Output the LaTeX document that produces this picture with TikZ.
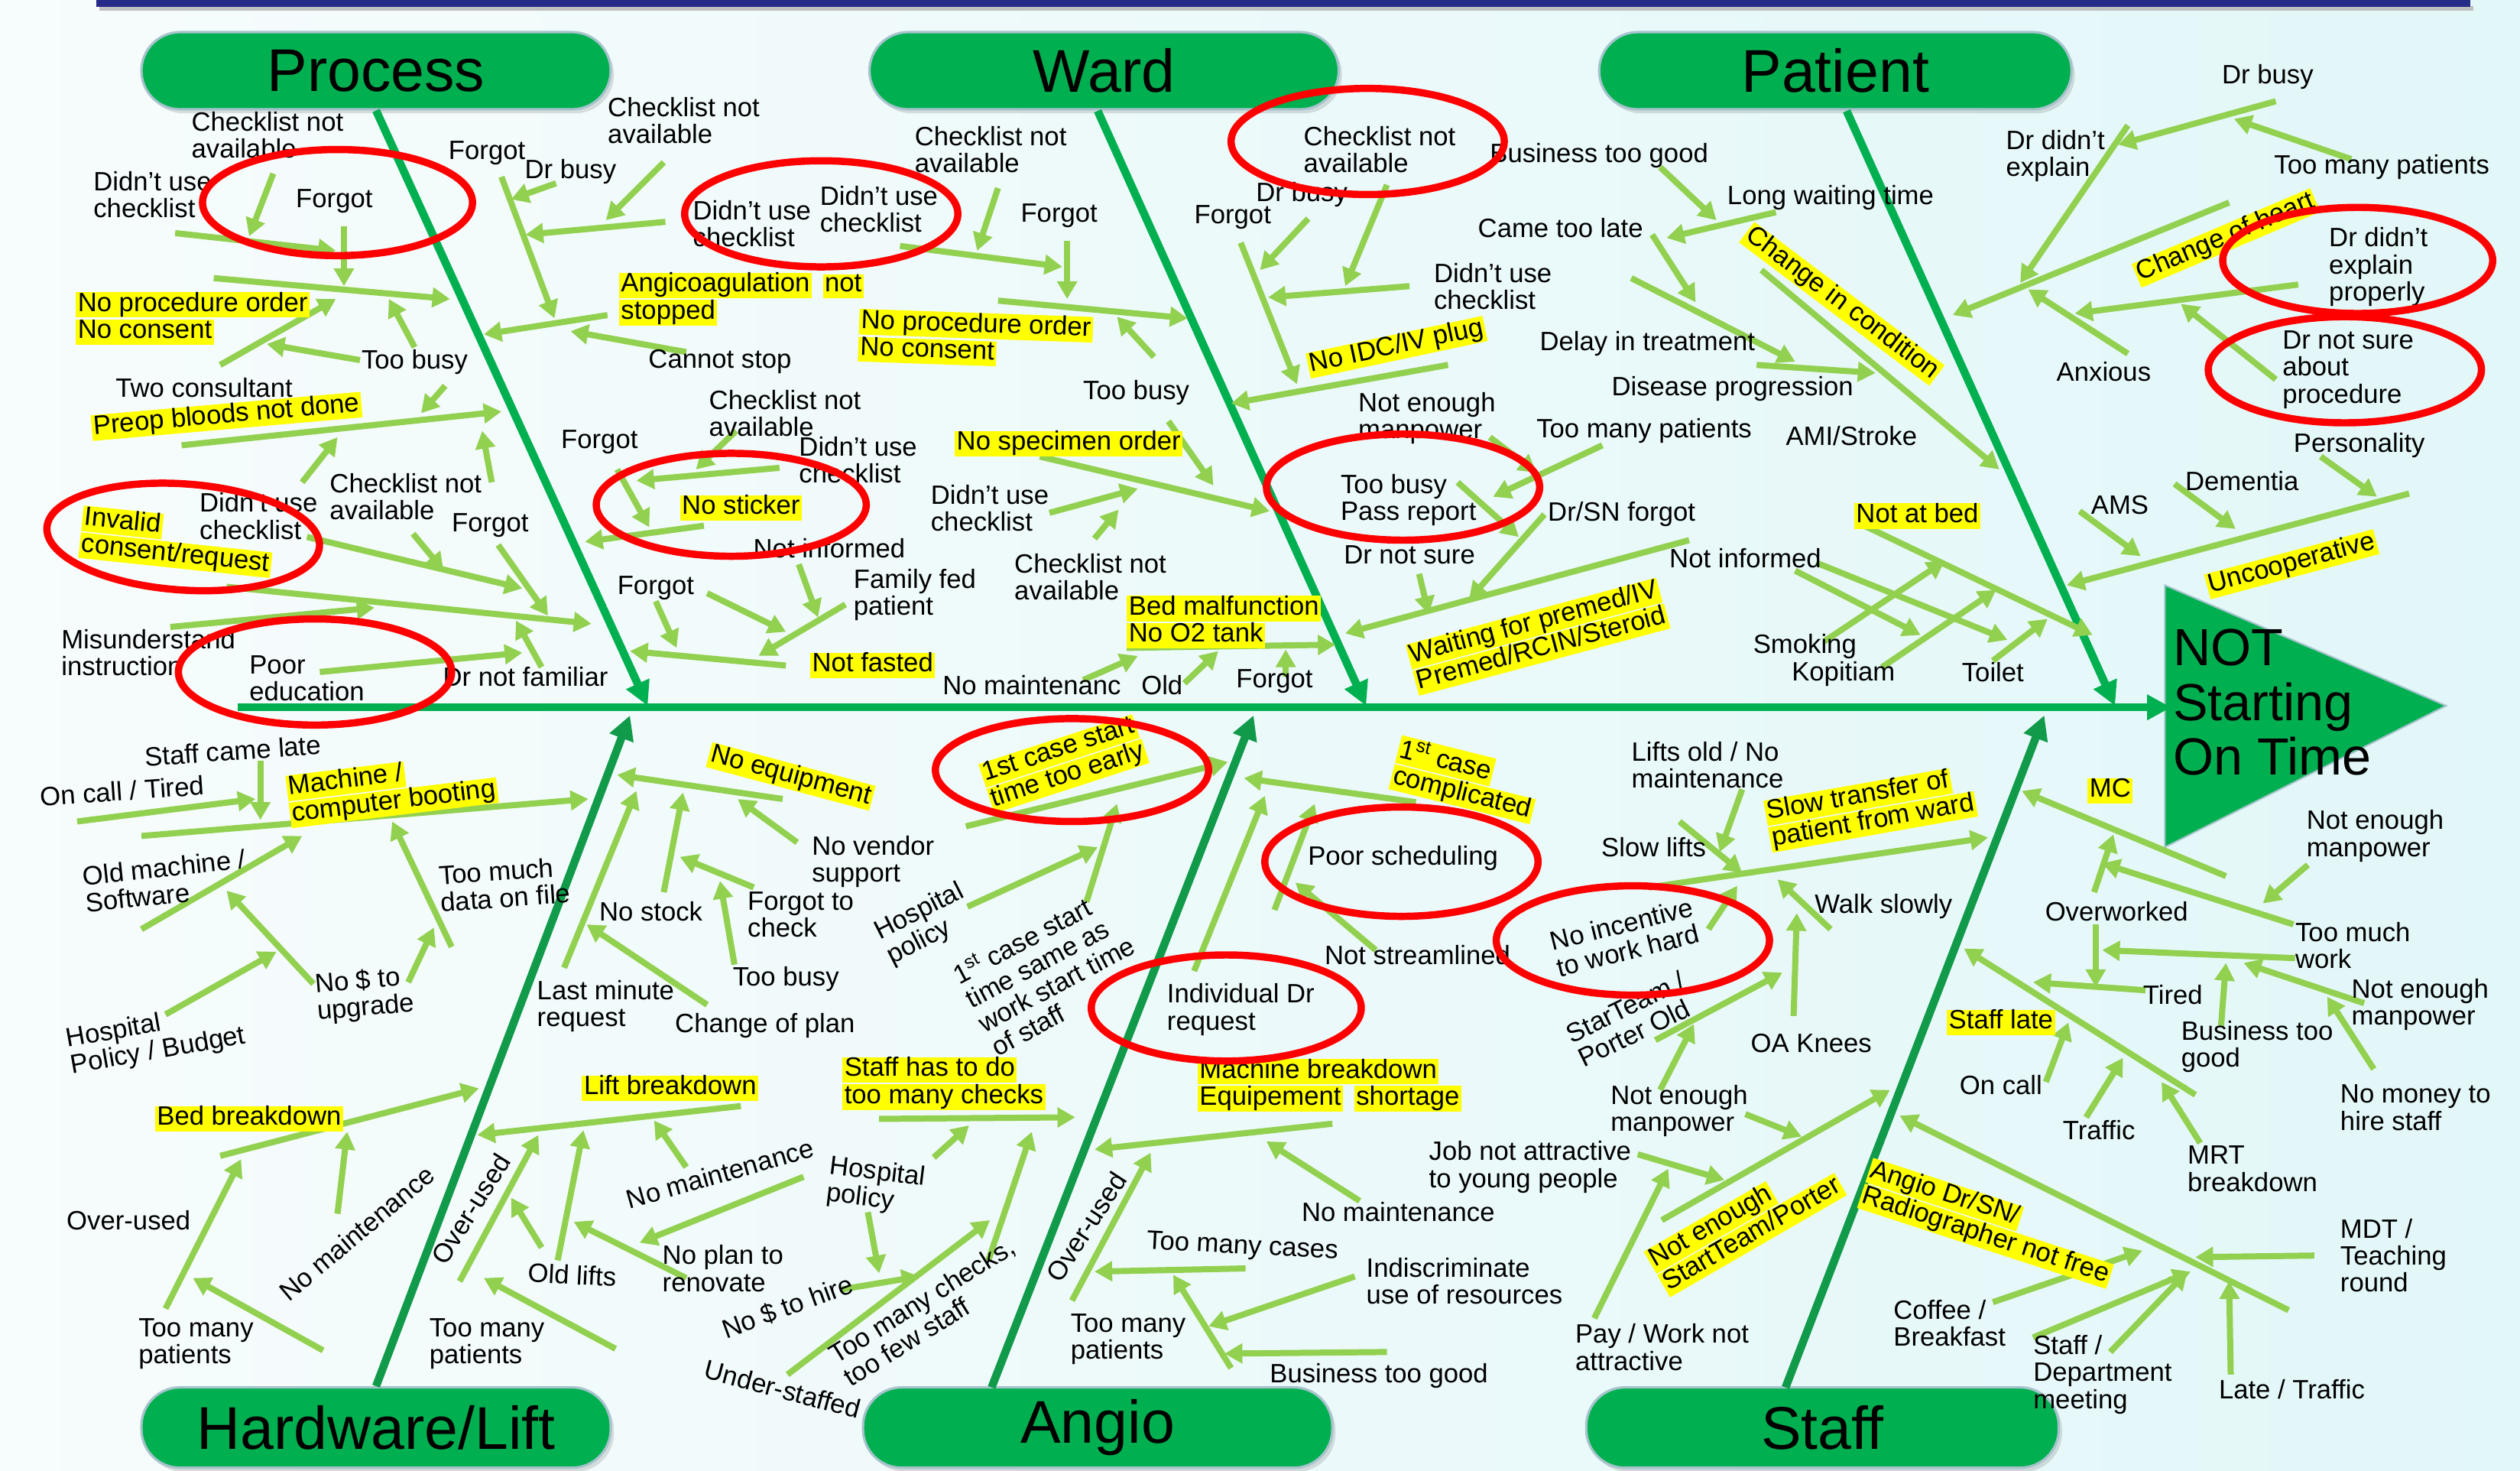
\documentclass[tikz,border=0pt]{standalone}
\usepackage{fontspec}
\setmainfont{Liberation Sans}
\usetikzlibrary{arrows.meta,shadows,shapes.geometric}
\definecolor{bga}{HTML}{F7FCFC}
\definecolor{bgb}{HTML}{E2F7F8}
\definecolor{bonegreen}{HTML}{00B050}
\definecolor{bonedark}{HTML}{109A4A}
\definecolor{subgreen}{HTML}{92D050}
\definecolor{hly}{HTML}{FFFF00}
\definecolor{navybar}{HTML}{262A88}
\definecolor{pillline}{HTML}{A6C3CC}
\setlength{\fboxsep}{0pt}
\newcommand\hl[1]{\colorbox{hly}{\hspace{1.2pt}\rule[-4pt]{0pt}{12.6pt}#1\hspace{1.2pt}}}
\newcommand\br[3]{\coordinate (#1s) at (#2); \coordinate (#1e) at (#3); \draw[sub] (#1s) -- (#1e);}
\begin{document}
\begin{tikzpicture}[x=1pt,y=-1pt,
  t/.style={font=\fontsize{16.5}{16.8}\selectfont, inner sep=0pt, align=left, text=black},
  pill/.style={rectangle, rounded corners=24pt, fill=bonegreen, draw=pillline, line width=1.5pt, minimum height=48pt, font=\fontsize{37.5}{40}\selectfont, inner sep=0pt, drop shadow={opacity=0.25, shadow xshift=2pt, shadow yshift=-2.5pt}},
  sub/.style={draw=subgreen, line width=3.8pt, -{Triangle[length=11pt,width=12pt]}},
  bone/.style={draw=bonegreen, line width=5pt, -{Triangle[length=15pt,width=15pt]}},
  boned/.style={bone, draw=bonedark},
  ell/.style={ellipse, draw=red, line width=4.5pt, inner sep=0pt},
]
\useasboundingbox (0,0) rectangle (1568,915);
\shade[left color=bga, right color=bgb] (0,0) rectangle (1568,915);
\fill[black!25] (62,4) rectangle (1539,6.5);
\fill[navybar] (60,0) rectangle (1537,4.5);

% category heads
\node[pill, minimum width=292pt] (process) at (234,44) {Process};
\node[pill, minimum width=292pt] (ward) at (687,44) {Ward};
\node[pill, minimum width=294pt] (patient) at (1142,44) {Patient};
\node[pill, minimum width=292pt, minimum height=50pt] (hardware) at (234,888) {Hardware/Lift};
\node[pill, minimum width=292pt, minimum height=50pt] (angio) at (683,888) {Angio};
\node[pill, minimum width=294pt, minimum height=50pt] (staff) at (1134,888) {Staff};

% head triangle
\coordinate (hA) at (1347,364); \coordinate (hB) at (1522,439); \coordinate (hC) at (1347,527);
\fill[bonegreen, draw=pillline, line width=1pt] (hA) -- (hB) -- (hC) -- cycle;

% bones
\coordinate (wardTop) at (683,69); \coordinate (patTop) at (1149,69);
\coordinate (angioTop) at (617,863); \coordinate (staffTop) at (1111,863);
\coordinate (pE) at (403,439); \coordinate (wE) at (850,439); \coordinate (paE) at (1316,439);
\coordinate (hE) at (392,445); \coordinate (aE) at (780,445); \coordinate (sE) at (1272,445);
\draw[bone] (process.south) -- (pE);
\draw[bone] (wardTop) -- (wE);
\draw[bone] (patTop) -- (paE);
\draw[boned] (hardware.north) -- (hE);
\draw[boned] (angioTop) -- (aE);
\draw[boned] (staffTop) -- (sE);
\coordinate (spS) at (148,440); \coordinate (spE) at (1351,440);
\draw[bone] (spS) -- (spE);

% ---- Process branches
\br{b1}{170,108}{155,147}
\br{b2}{109,145}{209,156}
\br{b3}{214,141}{214,178}
\br{b4}{133,173}{280,186}
\br{b5}{137,227}{209,186}
\br{b6}{258,216}{242,186}
\br{b7}{224,224}{166,214}
\br{b8}{277,240}{262,257}
\br{b9}{113,277}{312,256}
\br{b10}{188,300}{210,272}
\br{b11}{306,300}{300,268}
\br{b12}{312,110}{345,198}
\br{b13}{346,114}{318,124}
\br{b14}{413,101}{377,137}
\br{b15}{414,138}{327,146}
\br{b16}{378,196}{301,208}
\br{b17}{427,219}{355,206}
\br{b18}{191,334}{325,366}
\br{b19}{257,332}{276,355}
\br{b20}{310,339}{341,383}
\br{b21}{141,365}{368,388}
\br{b22}{106,390}{233,378}
\br{b23}{199,418}{325,406}
\br{b24}{337,415}{321,386}
% No sticker / not fasted groups
\br{b25}{458,268}{433,292}
\br{b26}{485,291}{396,299}
\br{b27}{384,292}{404,328}
\br{b28}{438,327}{364,337}
\br{b29}{489,414}{392,405}
\br{b30}{408,374}{421,403}
\br{b31}{440,369}{489,393}
\br{b32}{526,376}{472,408}
\br{b33}{497,351}{509,384}
% Ward
\br{b34}{560,153}{661,166}
\br{b35}{621,117}{608,156}
\br{b36}{664,150}{664,186}
\br{b37}{621,187}{739,198}
\br{b38}{718,222}{695,197}
\br{b39}{727,262}{755,302}
\br{b40}{647,284}{790,318}
\br{b41}{653,319}{708,304}
\br{b42}{681,335}{696,317}
\br{b43}{701,403}{831,401}
\br{b44}{674,423}{708,408}
\br{b45}{737,425}{758,405}
\br{b46}{800,421}{800,404}
% Ward right
\br{b47}{772,151}{807,239}
\br{b48}{814,136}{784,168}
\br{b49}{863,115}{837,178}
\br{b50}{877,178}{789,185}
\br{b51}{901,227}{766,251}
% Patient left
\br{b52}{1033,104}{1068,137}
\br{b53}{1105,132}{1037,148}
\br{b54}{1028,146}{1055,188}
\br{b55}{1015,173}{1117,225}
\br{b56}{1096,168}{1244,292}
\br{b57}{1093,227}{1167,232}
\br{b58}{927,272}{956,294}
\br{b59}{997,277}{929,309}
\br{b60}{907,300}{945,334}
\br{b61}{961,320}{914,373}
\br{b62}{883,357}{889,382}
\br{b63}{1051,336}{837,394}
\br{b64}{1117,355}{1195,395}
\br{b65}{1130,350}{1249,398}
\br{b66}{1160,327}{1302,395}
\br{b67}{1135,399}{1210,349}
\br{b68}{1171,415}{1242,367}
\br{b69}{1240,411}{1274,385}
% Patient right
\br{b70}{1416,63}{1318,90}
\br{b71}{1463,99}{1390,74}
\br{b72}{1324,78}{1257,176}
\br{b73}{1387,126}{1215,196}
\br{b74}{1430,177}{1291,195}
\br{b75}{1324,220}{1262,180}
\br{b76}{1416,236}{1357,189}
\br{b77}{1444,284}{1479,309}
\br{b78}{1499,307}{1286,364}
\br{b79}{1353,301}{1391,329}
\br{b80}{1294,318}{1332,346}
% Hardware / lift
\br{c1}{162,473}{162,510}
\br{c2}{48,511}{159,497}
\br{c3}{88,520}{366,497}
\br{c4}{88,578}{188,520}
\br{c5}{195,612}{141,554}
\br{c6}{254,611}{270,577}
\br{c7}{281,589}{244,511}
\br{c8}{103,631}{172,592}
\br{c9}{137,719}{298,677}
\br{c10}{103,814}{150,721}
\br{c11}{201,840}{120,795}
\br{c12}{210,755}{216,704}
\br{c13}{461,688}{297,706}
\br{c14}{286,797}{335,706}
\br{c15}{383,839}{301,795}
\br{c16}{337,776}{318,745}
\br{c17}{347,784}{363,703}
\br{c18}{427,795}{357,760}
\br{c19}{427,726}{407,697}
\br{c20}{500,732}{398,773}
\br{c21}{487,497}{384,482}
\br{c22}{496,524}{459,497}
\br{c23}{469,552}{423,533}
\br{c24}{413,555}{425,493}
\br{c25}{457,600}{448,548}
\br{c26}{351,602}{396,492}
\br{c27}{440,625}{365,575}
% Angio
\br{d1}{601,514}{764,474}
\br{d2}{602,564}{683,527}
\br{d3}{676,561}{695,500}
\br{d4}{547,696}{669,695}
\br{d5}{581,720}{603,700}
\br{d6}{540,754}{547,792}
\br{d7}{524,802}{572,794}
\br{d8}{490,855}{616,759}
\br{d9}{615,784}{642,704}
\br{d10}{667,809}{716,717}
\br{d11}{829,699}{681,715}
\br{d12}{846,747}{788,710}
\br{d13}{775,789}{681,791}
\br{d14}{766,851}{730,793}
\br{d15}{843,794}{752,825}
\br{d16}{863,841}{762,842}
\br{d17}{881,499}{774,484}
\br{d18}{793,566}{818,500}
\br{d19}{743,604}{787,495}
\br{d20}{856,591}{806,549}
% Staff
\br{e1}{1084,491}{1070,530}
\br{e2}{1045,511}{1084,543}
\br{e3}{1026,552}{1237,521}
\br{e4}{1063,578}{1081,551}
\br{e5}{1139,578}{1106,547}
\br{e6}{1116,632}{1118,568}
\br{e7}{1030,647}{1109,605}
\br{e8}{1033,678}{1054,637}
\br{e9}{1034,759}{1176,678}
\br{e10}{1086,693}{1121,707}
\br{e11}{1019,718}{1073,734}
\br{e12}{992,820}{1038,727}
\br{e13}{1385,545}{1258,492}
\br{e14}{1436,538}{1408,562}
\br{e15}{1427,575}{1308,537}
\br{e16}{1303,555}{1315,519}
\br{e17}{1304,575}{1304,614}
\br{e18}{1428,596}{1308,591}
\br{e19}{1335,616}{1265,611}
\br{e20}{1382,638}{1385,599}
\br{e21}{1471,624}{1396,599}
\br{e22}{1477,665}{1448,620}
\br{e23}{1366,681}{1222,590}
\br{e24}{1273,673}{1287,636}
\br{e25}{1298,695}{1321,658}
\br{e26}{1369,711}{1345,673}
\br{e27}{1424,815}{1182,694}
\br{e28}{1440,781}{1366,782}
\br{e29}{1265,832}{1363,791}
\br{e30}{1313,841}{1361,791}
\br{e31}{1240,810}{1333,778}
\br{e32}{1388,855}{1387,797}

% ---- texts: Process
\node[t,anchor=west] (t1) at (119,84) {Checklist not\\available};
\node[t,anchor=west] (t2) at (58,121) {Didn’t use\\checklist};
\node[t] (t3) at (208,125) {Forgot};
\node[t] (t4) at (303,95) {Forgot};
\node[t] (t5) at (355,107) {Dr busy};
\node[t,anchor=west] (t6) at (378,75) {Checklist not\\available};
\node[t,anchor=west] (t7) at (47,198) {\hl{No procedure order}\\\hl{No consent}};
\node[t] (t8) at (258,225) {Too busy};
\node[t] (t9) at (127,241) {Two consultant};
\node[t,rotate=5] (t10) at (141,259) {\hl{Preop bloods not done}};
\node[t,anchor=west] (t11) at (205,309) {Checklist not\\available};
\node[t,anchor=west] (t12) at (124,321) {Didn’t use\\checklist};
\node[t,rotate=-6] (t13) at (110,337) {\hl{Invalid}\\\hl{consent/request}};
\node[t] (t14) at (305,327) {Forgot};
\node[t,anchor=west] (t15) at (38,406) {Misunderstand\\instruction};
\node[t,anchor=west] (t16) at (155,422) {Poor\\education};
\node[t] (t17) at (327,421) {Dr not familiar};
% Ward
\node[t,anchor=west] (t18) at (385,186) {\hl{Angicoagulation}\hspace{7pt}\hl{not}\\\hl{stopped}};
\node[t] (t19) at (448,225) {Cannot stop};
\node[t,anchor=west] (t20) at (431,139) {Didn’t use\\checklist};
\node[t,anchor=west] (t21) at (510,130) {Didn’t use\\checklist};
\node[t,anchor=west] (t22) at (569,93) {Checklist not\\available};
\node[t] (t23) at (659,134) {Forgot};
\node[t,rotate=-2] (t24) at (607,211) {\hl{No procedure order}\\\hl{No consent}};
\node[t] (t25) at (707,244) {Too busy};
\node[t,anchor=west] (t26) at (441,257) {Checklist not\\available};
\node[t,anchor=west] (t27) at (497,286) {Didn’t use\\checklist};
\node[t] (t28) at (665,276) {\hl{No specimen order}};
\node[t] (t29) at (373,275) {Forgot};
\node[t] (t30) at (461,316) {\hl{No sticker}};
\node[t] (t31) at (516,341) {Not informed};
\node[t] (t32) at (408,366) {Forgot};
\node[t,anchor=west] (t33) at (531,370) {Family fed\\patient};
\node[t] (t34) at (543,414) {\hl{Not fasted}};
\node[t,anchor=west] (t35) at (579,316) {Didn’t use\\checklist};
\node[t,anchor=west] (t36) at (631,359) {Checklist not\\available};
\node[t,anchor=west] (t37) at (701,387) {\hl{Bed malfunction}\\\hl{No O2 tank}};
\node[t] (t38) at (642,426) {No maintenanc};
\node[t] (t39) at (723,426) {Old};
\node[t] (t40) at (793,424) {Forgot};
% Ward right / patient left
\node[t,anchor=west] (t41) at (811,93) {Checklist not\\available};
\node[t] (t42) at (810,121) {Dr busy};
\node[t] (t43) at (767,135) {Forgot};
\node[t,anchor=west] (t44) at (892,178) {Didn’t use\\checklist};
\node[t,rotate=12] (t45) at (869,216) {\hl{No IDC/IV plug}};
\node[t] (t46) at (995,97) {Business too good};
\node[t] (t47) at (1139,123) {Long waiting time};
\node[t] (t48) at (971,142) {Came too late};
\node[t,rotate=-37] (t49) at (1146,189) {\hl{Change in condition}};
\node[t] (t50) at (1025,214) {Delay in treatment};
\node[t] (t51) at (1078,242) {Disease progression};
\node[t,anchor=west] (t52) at (845,260) {Not enough\\manpower};
\node[t] (t53) at (1023,268) {Too many patients};
\node[t] (t54) at (1152,271) {AMI/Stroke};
\node[t,anchor=west] (t55) at (834,311) {Too busy\\Pass report};
\node[t] (t56) at (1009,320) {Dr/SN forgot};
\node[t] (t57) at (877,345) {Dr not sure};
\node[t] (t58) at (1086,347) {Not informed};
\node[t,rotate=15] (t59) at (957,396) {\hl{Waiting for premed/IV}\\\hl{Premed/RCIN/Steroid}};
\node[t] (t60) at (1123,402) {Smoking};
\node[t] (t61) at (1147,419) {Kopitiam};
\node[t] (t62) at (1193,321) {\hl{Not at bed}};
\node[t] (t63) at (1240,418) {Toilet};
% Patient right
\node[t] (t64) at (1411,48) {Dr busy};
\node[t,anchor=west] (t65) at (1248,97) {Dr didn’t\\explain};
\node[t] (t66) at (1482,104) {Too many patients};
\node[t,rotate=23] (t67) at (1385,148) {\hl{Change of heart}};
\node[t,anchor=west] (t68) at (1449,166) {Dr didn’t\\explain\\properly};
\node[t,anchor=west] (t69) at (1420,230) {Dr not sure\\about\\procedure};
\node[t] (t70) at (1309,231) {Anxious};
\node[t] (t71) at (1468,277) {Personality};
\node[t] (t72) at (1395,299) {Dementia};
\node[t] (t73) at (1319,314) {AMS};
\node[t,rotate=15] (t74) at (1426,351) {\hl{Uncooperative}};
\node[anchor=west, inner sep=0pt, align=left, font=\fontsize{32.5}{34}\selectfont] (t75) at (1352,437) {NOT\\Starting\\On Time};
% Hardware / lift
\node[t,rotate=4] (t76) at (145,467) {Staff came late};
\node[t,rotate=4] (t77) at (76,492) {On call / Tired};
\node[t,rotate=7] (t78) at (244,491) {\hl{Machine /}\\\hl{computer booting}};
\node[t,rotate=6] (t79) at (103,548) {Old machine /\\Software};
\node[t,rotate=4] (t80) at (314,550) {Too much\\data on file};
\node[t,rotate=5] (t81) at (227,619) {No \$ to\\upgrade};
\node[t,rotate=10] (t82) at (97,646) {Hospital\\Policy / Budget};
\node[t] (t83) at (155,696) {\hl{Bed breakdown}};
\node[t] (t84) at (80,759) {Over-used};
\node[t,rotate=40] (t85) at (222,767) {No maintenance};
\node[t,anchor=west] (t86) at (86,836) {Too many\\patients};
\node[t,rotate=58] (t87) at (293,752) {Over-used};
\node[t,anchor=west] (t88) at (267,836) {Too many\\patients};
\node[t,rotate=-3] (t89) at (356,793) {Old lifts};
\node[t,rotate=-15] (t90) at (492,483) {\hl{No equipment}};
\node[t,anchor=west] (t91) at (505,536) {No vendor\\support};
\node[t] (t92) at (405,567) {No stock};
\node[t,anchor=west] (t93) at (465,569) {Forgot to\\check};
\node[t] (t94) at (489,609) {Too busy};
\node[t,anchor=west] (t95) at (334,626) {Last minute\\request};
\node[t] (t96) at (476,638) {Change of plan};
\node[t] (t97) at (417,677) {\hl{Lift breakdown}};
\node[t,rotate=16] (t98) at (448,730) {No maintenance};
\node[t,anchor=west] (t99) at (412,789) {No plan to\\renovate};
\node[t,rotate=-7] (t100) at (545,738) {Hospital\\policy};
\node[t,rotate=20] (t101) at (490,813) {No \$ to hire};
\node[t,rotate=-15] (t102) at (487,864) {Under-staffed};
\node[t,rotate=32] (t103) at (578,816) {Too many checks,\\too few staff};
\node[t,anchor=west] (t104) at (524,674) {\hl{Staff has to do}\\\hl{too many checks}};
% Angio
\node[t,rotate=18] (t105) at (662,475) {\hl{1st case start}\\\hl{time too early}};
\node[t,rotate=27] (t106) at (576,575) {Hospital\\policy};
\node[t,rotate=28] (t107) at (653,604) {1\textsuperscript{st} case start\\time same as\\work start time\\of staff};
\node[t,rotate=-14] (t108) at (912,485) {\hl{1\textsuperscript{st} case}\\\hl{complicated}};
\node[t] (t109) at (873,534) {Poor scheduling};
\node[t] (t110) at (882,594) {Not streamlined};
\node[t,anchor=west] (t111) at (726,628) {Individual Dr\\request};
\node[t,anchor=west] (t112) at (745,675) {\hl{Machine breakdown}\\\hl{Equipement}\hspace{7pt}\hl{shortage}};
\node[t] (t113) at (870,754) {No maintenance};
\node[t,rotate=-3] (t114) at (773,776) {Too many cases};
\node[t,rotate=57] (t115) at (676,763) {Over-used};
\node[t,anchor=west] (t116) at (666,833) {Too many\\patients};
\node[t,anchor=west] (t117) at (850,797) {Indiscriminate\\use of resources};
\node[t] (t118) at (858,856) {Business too good};
% Staff
\node[t,anchor=west] (t119) at (1015,476) {Lifts old / No\\maintenance};
\node[t] (t120) at (1029,527) {Slow lifts};
\node[t,rotate=10] (t121) at (1164,503) {\hl{Slow transfer of}\\\hl{patient from ward}};
\node[t,rotate=14] (t122) at (1011,583) {No incentive\\to work hard};
\node[t] (t123) at (1172,564) {Walk slowly};
\node[t,anchor=west] (t124) at (889,726) {Job not attractive\\to young people};
\node[t,rotate=26] (t125) at (1015,634) {StarTeam /\\Porter Old};
\node[t] (t126) at (1127,649) {OA Knees};
\node[t,anchor=west] (t127) at (1002,691) {Not enough\\manpower};
\node[t,rotate=30] (t128) at (1086,761) {\hl{Not enough}\\\hl{StartTeam/Porter}};
\node[t,anchor=west] (t129) at (980,838) {Pay / Work not\\attractive};
\node[t] (t130) at (1313,492) {\hl{MC}};
\node[t,anchor=west] (t131) at (1435,520) {Not enough\\manpower};
\node[t] (t132) at (1317,567) {Overworked};
\node[t,anchor=west] (t133) at (1428,588) {Too much\\work};
\node[t] (t134) at (1352,619) {Tired};
\node[t,anchor=west] (t135) at (1463,625) {Not enough\\manpower};
\node[t] (t136) at (1245,636) {\hl{Staff late}};
\node[t,anchor=west] (t137) at (1357,651) {Business too\\good};
\node[t] (t138) at (1245,675) {On call};
\node[t,anchor=west] (t139) at (1456,689) {No money to\\hire staff};
\node[t] (t140) at (1306,703) {Traffic};
\node[t,anchor=west] (t141) at (1361,727) {MRT\\breakdown};
\node[t,rotate=-18] (t142) at (1238,761) {\hl{Angio Dr/SN/}\\\hl{Radiographer not free}};
\node[t,anchor=west] (t143) at (1456,781) {MDT /\\Teaching\\round};
\node[t,anchor=west] (t144) at (1178,823) {Coffee /\\Breakfast};
\node[t,anchor=west] (t145) at (1265,855) {Staff /\\Department\\meeting};
\node[t] (t146) at (1426,864) {Late / Traffic};

% red ellipses
\node[ell, minimum width=168pt, minimum height=66pt] (o1) at (210,126) {};
\node[ell, minimum width=170pt, minimum height=66pt] (o2) at (511,133) {};
\node[ell, minimum width=170pt, minimum height=66pt] (o3) at (851,88) {};
\node[ell, minimum width=170pt, minimum height=66pt, rotate=-4] (o4) at (114,334) {};
\node[ell, minimum width=170pt, minimum height=66pt] (o5) at (196,418) {};
\node[ell, minimum width=168pt, minimum height=64pt] (o6) at (455,314) {};
\node[ell, minimum width=170pt, minimum height=66pt] (o7) at (873,303) {};
\node[ell, minimum width=168pt, minimum height=66pt] (o8) at (1467,162) {};
\node[ell, minimum width=170pt, minimum height=66pt] (o9) at (1459,230) {};
\node[ell, minimum width=170pt, minimum height=64pt] (o10) at (667,479) {};
\node[ell, minimum width=170pt, minimum height=68pt] (o11) at (872,536) {};
\node[ell, minimum width=170pt, minimum height=68pt] (o12) at (1016,585) {};
\node[ell, minimum width=168pt, minimum height=66pt] (o13) at (763,627) {};
\end{tikzpicture}
\end{document}
